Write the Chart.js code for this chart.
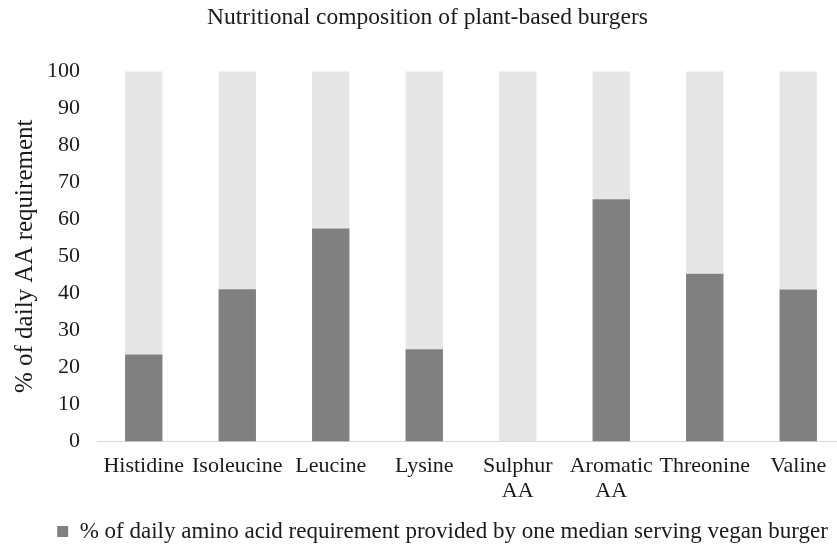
<!DOCTYPE html>
<html>
<head>
<meta charset="utf-8">
<script src="https://cdn.jsdelivr.net/npm/chart.js@4"></script>
<style>
  html, body { margin: 0; padding: 0; background: #fff; overflow: hidden; }
  #wrap { width: 845px; height: 553px; }
</style>
</head>
<body>
<div id="wrap"><canvas id="chart" width="845" height="553"></canvas></div>
<script>
// amino acid categories
const categories = ['Histidine', 'Isoleucine', 'Leucine', 'Lysine', ['Sulphur', 'AA'], ['Aromatic', 'AA'], 'Threonine', 'Valine'];
// % of daily requirement from one median serving
const provided = [23.5, 41.1, 57.5, 24.9, 0, 65.4, 45.3, 41.0];
// remaining part up to 100 %
const remainder = [76.5, 58.9, 42.5, 75.1, 100, 34.6, 54.7, 59.0];
const yTicks = [0, 10, 20, 30, 40, 50, 60, 70, 80, 90, 100];

const serif = 'Liberation Serif';
const textColor = '#1a1a1a';

// move the legend a bit to the right, like the original figure
const legendShift = {
    id: 'legendShift',
    afterLayout(chart) {
        if (chart.legend) {
            chart.legend.left += 15;
            chart.legend.right += 15;
        }
    }
};

const ctx = document.getElementById('chart').getContext('2d');
new Chart(ctx, {
    type: 'bar',
    data: {
        labels: categories,
        datasets: [{
            label: '% of daily amino acid requirement provided by one median serving vegan burger',
            data: provided,
            backgroundColor: '#808080',
            barPercentage: 0.4,
            categoryPercentage: 1.0
        }, {
            label: 'remainder',
            data: remainder,
            backgroundColor: '#e6e6e6',
            barPercentage: 0.4,
            categoryPercentage: 1.0
        }]
    },
    options: {
        responsive: false,
        animation: false,
        layout: { padding: { left: 10, right: 0, top: 0, bottom: 0 } },
        scales: {
            x: {
                stacked: true,
                grid: { display: false, drawTicks: false },
                border: { display: true, color: '#d9d9d9', width: 1 },
                ticks: {
                    color: textColor,
                    font: { family: serif, size: 22, lineHeight: 1.15 },
                    maxRotation: 0,
                    autoSkip: false,
                    padding: 12
                }
            },
            y: {
                stacked: true,
                min: 0,
                max: 100,
                afterBuildTicks: axis => { axis.ticks = yTicks.map(v => ({ value: v })); },
                grid: { display: false, drawTicks: false },
                border: { display: false },
                ticks: {
                    color: textColor,
                    font: { family: serif, size: 22 },
                    padding: 17
                },
                title: {
                    display: true,
                    text: '% of daily AA requirement',
                    color: textColor,
                    font: { family: serif, size: 25, lineHeight: 0.4 },
                    padding: { top: 10, bottom: 0 }
                }
            }
        },
        plugins: {
            title: {
                display: true,
                text: 'Nutritional composition of plant-based burgers',
                color: textColor,
                font: { family: serif, size: 23.5, weight: 'normal' },
                padding: { top: 4, bottom: 39 }
            },
            legend: {
                position: 'bottom',
                labels: {
                    color: textColor,
                    font: { family: serif, size: 23 },
                    boxWidth: 11,
                    boxHeight: 11,
                    padding: 4,
                    filter: item => item.datasetIndex === 0
                }
            },
            tooltip: { enabled: false }
        }
    },
    plugins: [legendShift]
});
</script>
</body>
</html>
